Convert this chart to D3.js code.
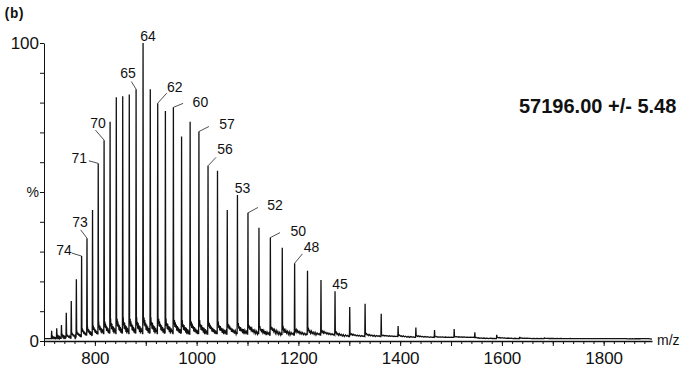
<!DOCTYPE html>
<html><head><meta charset="utf-8">
<script src="https://cdn.jsdelivr.net/npm/d3@7"></script>
<style>body{margin:0;background:#fff} svg{display:block}</style>
</head><body>
<svg id="c" width="699" height="374"></svg>
<script>
// ---------- data ----------
const charges = [80,79,78,77,76,75,74,73,72,71,70,69,68,67,66,65,64,63,62,61,60,59,58,57,56,55,54,53,52,51,50,49,48,47,46,45,44,43,42,41,40,39,38,37,36,35,34,33,32,31];
const mzValues = [715,725,734.3,743.8,753.6,763.6,773.9,784.5,795.4,806.6,818.1,829.9,842.1,854.7,867.6,881,894.7,908.9,923.5,938.6,954.3,970.4,987.2,1004.5,1022.4,1041,1060.2,1080.2,1100.9,1122.5,1144.9,1168.3,1192.6,1217.9,1244.4,1272,1300.9,1331.1,1362.8,1396,1430.9,1467.6,1506.2,1546.8,1589.8,1635.2,1683.3,1734.2,1788.4,1846];
const intensities = [3.4,4.3,5.4,9.5,13.4,20.7,28.5,34.5,44,59.6,67.4,73.6,81.8,82.1,82.7,84.5,100,84.5,79.8,77.2,78.4,68.6,73.6,70.3,58.8,57.1,44,49,43,38,34.7,31.3,26.1,23.6,20.5,16.7,11.4,12.5,9.1,5.0,4.5,3.7,4.0,2.9,2.1,1.4,1.0,0.9,0.8,0.7];
const shoulders = [1.5,1.8,2,2.5,3,3.5,4.5,5,5.5,6.5,7,7.5,8,8,8,8,8.5,8,8,7.5,7.5,7,7,7,6.5,6.5,6,6,5.5,5,5,4.5,4,4,3.5,3,2.5,2.5,2,2,1.8,1.5,1.5,1.2,1.2,1,0.9,0.8,0.8,0.7];
const valleys = [0.8,0.9,1,1,1.2,1.5,1.8,2,2.2,2.5,2.5,2.5,2.5,2.5,2.5,2.5,2.5,2.5,2.5,2.5,2.5,2.3,2.3,2.3,2.3,2.3,2.3,2.3,2.3,2,2,2,2,2,2,1.5,1.5,1.5,1.5,1.2,1.2,1.2,1.2,0.8,0.8,0.8,0.8,0.8,0.8,0.8];
const labeledCharges = [74,73,71,70,65,64,62,60,57,56,53,52,50,48,45];
const xTickLabels = [800,1000,1200,1400,1600,1800];
const yTickValues = [0,50,100];
const yTickTexts = ["0","%","100"];
const massText = "57196.00 +/- 5.48";
const panelText = "(b)";
const xAxisTitle = "m/z";

// ---------- layout / style ----------
const x = d3.scaleLinear().domain([700, 1895]).range([44, 652]);
const y = d3.scaleLinear().domain([0, 100]).range([341, 43]);
// label placement relative to peak top (pixels): text center dx,dy ; leader start lx,ly
const labelLayout = {
  74:{dx:-17.5,dy:-6,lx:-9.8,ly:-3},
  73:{dx:-7,dy:-16,lx:-6.3,ly:-8.3},
  71:{dx:-19,dy:-5,lx:-9.3,ly:-2.6},
  70:{dx:-6,dy:-17,lx:-8.6,ly:-10},
  65:{dx:-8,dy:-16,lx:-4.7,ly:-7.6},
  64:{dx:5,dy:-7},
  62:{dx:17,dy:-16,lx:9,ly:-10},
  60:{dx:27,dy:-5,lx:9.7,ly:-4},
  57:{dx:28,dy:-8,lx:10,ly:-5},
  56:{dx:17,dy:-17,lx:8,ly:-8.4},
  53:{dx:5,dy:-7},
  52:{dx:27,dy:-8,lx:10,ly:-5.4},
  50:{dx:28,dy:-7,lx:9.7,ly:-5},
  48:{dx:17,dy:-16,lx:7.7,ly:-9.3},
  45:{dx:5,dy:-7}
};
// shape templates of the tail that follows each peak (alternating)
const tailFrac  = [0.04,0.08,0.13,0.18,0.23,0.29,0.35,0.42,0.49,0.56,0.63,0.71,0.79,0.87,0.93];
const tailLevelA = [1.0,0.6,0.9,0.45,0.75,0.4,0.6,0.2,0.5,0.15,0.4,0.05,0.3,0.0,0.2];
const tailLevelB = [0.85,1.0,0.5,0.7,0.3,0.65,0.25,0.5,0.1,0.45,0.0,0.35,0.1,0.25,0.0];

const svg = d3.select("#c");
const FONT = "'Liberation Sans', Arial, sans-serif";

// spectrum path
const pts = [[700, 0.8]];
mzValues.forEach((m, i) => {
  const prevV = i > 0 ? valleys[i-1] : 0.8;
  const gap = (i < mzValues.length - 1 ? mzValues[i+1] : m + 45) - m;
  const tpl = i % 2 ? tailLevelB : tailLevelA;
  pts.push([m - 0.6, prevV]);
  pts.push([m, intensities[i]]);
  pts.push([m + 0.6, shoulders[i]]);
  tailFrac.forEach((f, k) => {
    pts.push([m + f*gap, valleys[i] + (shoulders[i] - valleys[i]) * tpl[k]]);
  });
});
pts.push([1895, 0.6]);
const line = d3.line().x(d => x(d[0])).y(d => y(d[1]));
svg.append("path").attr("d", line(pts)).attr("fill","none")
  .attr("stroke","#111").attr("stroke-width",1.3).attr("stroke-linejoin","miter");

// axes
const gy = svg.append("g").attr("transform","translate(44,0)");
gy.call(d3.axisLeft(y).tickValues(d3.range(0,101,10)).tickSize(4).tickFormat("").tickSizeOuter(0));
gy.call(g => g.selectAll("path,line").attr("stroke","#111"));
const gyl = svg.append("g").attr("transform","translate(44,0)");
gyl.call(d3.axisLeft(y).tickValues(yTickValues).tickSize(0).tickPadding(5)
  .tickFormat((d,i) => yTickTexts[i]));
gyl.select(".domain").remove();
gyl.selectAll("text").attr("font-family",FONT).attr("fill","#111")
  .attr("font-size",(d) => d === 50 ? 14 : 17);

const gx = svg.append("g").attr("transform","translate(0,341)");
gx.call(d3.axisBottom(x).tickValues(d3.range(700,1881,20)).tickSize(3).tickFormat("").tickSizeOuter(0));
gx.call(g => g.selectAll("path,line").attr("stroke","#111"));
gx.select(".domain").attr("stroke-width",1.4);
const gx2 = svg.append("g").attr("transform","translate(0,341)");
gx2.call(d3.axisBottom(x).tickValues(d3.range(700,1801,100)).tickSize(5).tickPadding(6)
  .tickFormat(d => xTickLabels.includes(d) ? d : ""));
gx2.select(".domain").remove();
gx2.selectAll("line").attr("stroke","#111");
gx2.selectAll("text").attr("font-family",FONT).attr("font-size",17).attr("fill","#111");

// peak labels
labeledCharges.forEach(z => {
  const i = charges.indexOf(z);
  const px = x(mzValues[i]), py = y(intensities[i]);
  const L = labelLayout[z];
  if (L.lx !== undefined) {
    svg.append("line").attr("x1", px + L.lx).attr("y1", py + L.ly)
      .attr("x2", px).attr("y2", py).attr("stroke","#222").attr("stroke-width",0.8);
  }
  svg.append("text").attr("x", px + L.dx).attr("y", py + L.dy)
    .attr("text-anchor","middle").attr("dominant-baseline","central")
    .attr("font-family",FONT).attr("font-size",14).attr("fill","#111").text(z);
});

// texts
svg.append("text").attr("x",657).attr("y",345).attr("font-family",FONT)
  .attr("font-size",14).attr("fill","#111").text(xAxisTitle);
svg.append("text").attr("x",519).attr("y",113).attr("font-family",FONT)
  .attr("font-size",20).attr("font-weight","bold").attr("fill","#111").text(massText);
svg.append("text").attr("x",3).attr("y",18).attr("font-family","'Liberation Mono', monospace")
  .attr("font-size",14).attr("font-weight","bold").attr("fill","#111")
  .attr("letter-spacing",-1.5).text(panelText);
</script>
</body></html>
